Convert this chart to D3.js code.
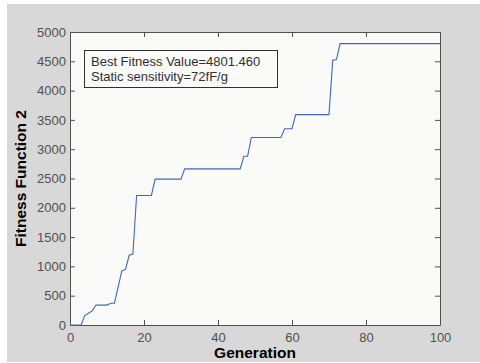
<!DOCTYPE html>
<html>
<head>
<meta charset="utf-8">
<script src="https://cdn.jsdelivr.net/npm/d3@7"></script>
<style>
  body { margin: 0; background: #fff; }
  svg { display: block; font-family: Arial, "Liberation Sans", sans-serif; }
</style>
</head>
<body>
<svg id="chart" width="480" height="363"></svg>
<script>
// best fitness per generation
const generations = d3.range(0, 101)
const fitness = [
  0, 0, 0, 0, 160, 200, 240, 340, 340, 340,
  340, 370, 370, 650, 920, 950, 1190, 1210, 2210, 2210,
  2210, 2210, 2210, 2490, 2490, 2490, 2490, 2490, 2490, 2490,
  2490, 2665, 2665, 2665, 2665, 2665, 2665, 2665, 2665, 2665,
  2665, 2665, 2665, 2665, 2665, 2665, 2665, 2880, 2880, 3200,
  3200, 3200, 3200, 3200, 3200, 3200, 3200, 3200, 3350, 3350,
  3350, 3590, 3590, 3590, 3590, 3590, 3590, 3590, 3590, 3590,
  3590, 4520, 4530, 4801.46, 4801.46, 4801.46, 4801.46, 4801.46, 4801.46, 4801.46,
  4801.46, 4801.46, 4801.46, 4801.46, 4801.46, 4801.46, 4801.46, 4801.46, 4801.46, 4801.46,
  4801.46, 4801.46, 4801.46, 4801.46, 4801.46, 4801.46, 4801.46, 4801.46, 4801.46, 4801.46,
  4801.46
]
const xTicks = [0, 20, 40, 60, 80, 100]
const yTicks = [0, 500, 1000, 1500, 2000, 2500, 3000, 3500, 4000, 4500, 5000]
const legendLines = ['Best Fitness Value=4801.460', 'Static sensitivity=72fF/g']

const margin = { top: 32, right: 40, bottom: 38, left: 70 }
const width = 480, height = 363

const svg = d3.select('#chart')

// figure background
svg.append('rect')
  .attr('x', 7).attr('y', 4)
  .attr('width', width - 7).attr('height', height - 5)
  .attr('fill', '#d8d8d8')

const x = d3.scaleLinear().domain([0, 100]).range([margin.left, width - margin.right])
const y = d3.scaleLinear().domain([0, 5000]).range([height - margin.bottom, margin.top])

svg.append('rect')
  .attr('x', x(0)).attr('y', y(5000))
  .attr('width', x(100) - x(0)).attr('height', y(0) - y(5000))
  .attr('fill', '#fafaf8')

function styleAxis(g) {
  g.select('.domain').attr('stroke', '#505050')
  g.selectAll('.tick line').attr('stroke', '#505050')
  g.selectAll('.tick text').attr('fill', '#505050').attr('font-size', 13)
    .attr('font-family', 'Arial, "Liberation Sans", sans-serif')
}

const tk = 5
svg.append('g')
  .attr('transform', 'translate(0,' + y(0) + ')')
  .call(d3.axisBottom(x).tickValues(xTicks).tickFormat(d3.format('d'))
    .tickSizeInner(-tk).tickSizeOuter(0).tickPadding(8))
  .call(styleAxis)
svg.append('g')
  .attr('transform', 'translate(0,' + y(5000) + ')')
  .call(d3.axisTop(x).tickValues(xTicks).tickSizeInner(-tk).tickSizeOuter(0).tickFormat(''))
  .call(styleAxis)
svg.append('g')
  .attr('transform', 'translate(' + x(0) + ',0)')
  .call(d3.axisLeft(y).tickValues(yTicks).tickFormat(d3.format('d'))
    .tickSizeInner(-tk).tickSizeOuter(0).tickPadding(4))
  .call(styleAxis)
svg.append('g')
  .attr('transform', 'translate(' + x(100) + ',0)')
  .call(d3.axisRight(y).tickValues(yTicks).tickSizeInner(-tk).tickSizeOuter(0).tickFormat(''))
  .call(styleAxis)

// the curve
const line = d3.line()
  .x((d, i) => x(generations[i]))
  .y(d => y(d))
svg.append('path')
  .datum(fitness)
  .attr('d', line)
  .attr('fill', 'none')
  .attr('stroke', '#3f67be')
  .attr('stroke-width', 1.1)

// legend box
const lg = svg.append('g')
lg.append('rect')
  .attr('x', 84.5).attr('y', 50.5)
  .attr('width', 193).attr('height', 37)
  .attr('fill', '#fafaf8')
  .attr('stroke', '#303030')
lg.selectAll('text')
  .data(legendLines)
  .enter().append('text')
  .attr('x', 91)
  .attr('y', (d, i) => 66 + i * 14.5)
  .attr('font-size', 13)
  .attr('fill', '#303030')
  .text(d => d)

// axis labels
svg.append('text')
  .attr('x', (x(0) + x(100)) / 2)
  .attr('y', 358)
  .attr('text-anchor', 'middle')
  .attr('font-size', 15.5)
  .attr('font-weight', 'bold')
  .text('Generation')
svg.append('text')
  .attr('transform', 'translate(26,' + (y(0) + y(5000)) / 2 + ') rotate(-90)')
  .attr('text-anchor', 'middle')
  .attr('font-size', 15.5)
  .attr('font-weight', 'bold')
  .text('Fitness Function 2')
</script>
</body>
</html>
